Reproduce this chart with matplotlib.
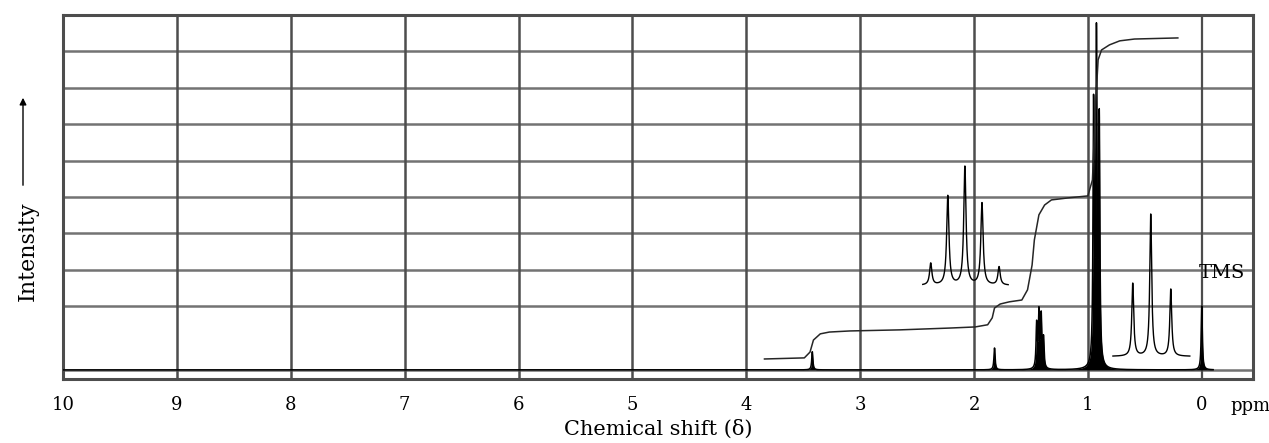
import numpy as np
import matplotlib
matplotlib.use("Agg")
import matplotlib.pyplot as plt

# Main spectrum peaks (ppm, height in chart-paper units)
main_ppm = [3.42, 1.82, 1.45, 1.43, 1.41, 1.39, 0.95, 0.925, 0.90, 0.0]
main_h = [0.50, 0.60, 1.20, 1.50, 1.40, 0.80, 7.00, 8.80, 6.60, 1.75]

# Expanded multiplet inset near 2 ppm
inset1_ppm = [2.38, 2.23, 2.08, 1.93, 1.78]
inset1_h = [0.60, 2.45, 3.25, 2.25, 0.50]
inset1_base = 2.47
inset1_span = (2.45, 1.70)

# Expanded triplet inset near 0.5 ppm
inset2_ppm = [0.606, 0.448, 0.272]
inset2_h = [2.00, 3.90, 1.84]
inset2_base = 0.47
inset2_span = (0.78, 0.105)

# Integral trace (ppm, level)
integ_ppm = [3.84, 3.49, 3.44, 3.41, 3.35, 3.27, 3.09, 2.65, 2.21, 1.99, 1.88, 1.84,
             1.82, 1.77, 1.69, 1.58, 1.53, 1.49, 1.47, 1.43, 1.38, 1.32, 1.16, 1.00,
             0.96, 0.93, 0.91, 0.88, 0.81, 0.72, 0.59, 0.21]
integ_lvl = [0.30, 0.33, 0.49, 0.82, 0.99, 1.04, 1.07, 1.10, 1.15, 1.18, 1.24, 1.43,
             1.70, 1.81, 1.87, 1.92, 2.20, 2.88, 3.57, 4.26, 4.53, 4.67, 4.73, 4.78,
             5.22, 7.42, 8.52, 8.79, 8.93, 9.04, 9.09, 9.12]

xticks = [10, 9, 8, 7, 6, 5, 4, 3, 2, 1, 0]
hgrid = [0, 1.75, 2.75, 3.75, 4.75, 5.75, 6.75, 7.75, 8.75]


def lorentz(x, pos, h, w):
    y = np.zeros_like(x)
    for p, a in zip(pos, h):
        y += a * w**2 / ((x - p)**2 + w**2)
    return y


plt.rcParams['font.family'] = ['DejaVu Serif']

fig = plt.figure(figsize=(12.69, 4.43), dpi=100)
ax = fig.add_axes([63/1269, 1-379/443, 1190/1269, 364/443])
ax.set_xlim(10, -0.45)
ax.set_ylim(-0.25, 9.75)

# chart paper grid
for g in hgrid:
    ax.axhline(g, color='0.45', lw=1.8, zorder=0)
for t in xticks[1:-1]:
    ax.axvline(t, color='0.3', lw=1.8, zorder=0)
ax.axvline(0, color='0.3', lw=1.6, zorder=0)
for s in ax.spines.values():
    s.set_color('0.3')
    s.set_linewidth(2.2)

# main spectrum
x = np.linspace(10, -0.1, 30000)
y = lorentz(x, main_ppm, main_h, 0.006)
ax.fill_between(x, 0, y, color='black', lw=0, zorder=3)
ax.plot(x, y, color='black', lw=1.1, zorder=3)

# integral
ax.plot(integ_ppm, integ_lvl, color='0.15', lw=1.1, zorder=3)

# insets
x1 = np.linspace(inset1_span[0], inset1_span[1], 2000)
ax.plot(x1, inset1_base + lorentz(x1, inset1_ppm, inset1_h, 0.012) - 0.15,
        color='black', lw=1.0, zorder=3)
x2 = np.linspace(inset2_span[0], inset2_span[1], 2000)
ax.plot(x2, inset2_base + lorentz(x2, inset2_ppm, inset2_h, 0.01) - 0.1,
        color='black', lw=1.0, zorder=3)

ax.text(0.03, 2.65, 'TMS', fontsize=14, ha='left', va='center', zorder=4)

ax.set_xticks(xticks)
ax.set_xticklabels([str(t) for t in xticks], fontsize=13)
ax.set_yticks([])
ax.tick_params(axis='x', length=0, pad=12)
ax.set_xlabel('Chemical shift (δ)', fontsize=15, labelpad=4)

fig.text(1230/1269, 1-406/443, 'ppm', fontsize=13, va='center')
fig.text(28/1269, 1-251/443, 'Intensity', fontsize=16, rotation=90,
         ha='center', va='center')
fig.add_artist(matplotlib.patches.FancyArrowPatch(
    (23/1269, 1-188/443), (23/1269, 1-95/443), transform=fig.transFigure,
    arrowstyle='-|>', mutation_scale=10, color='black', lw=1.0))

fig.set_facecolor('w')
plt.savefig('out.png', dpi=100)
